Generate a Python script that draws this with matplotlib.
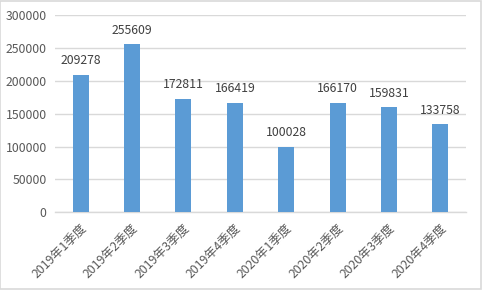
import matplotlib
matplotlib.use("Agg")
import matplotlib.pyplot as plt

plt.rcParams['font.family'] = ['Noto Sans CJK SC', 'DejaVu Sans']

categories = ["2019年1季度", "2019年2季度", "2019年3季度", "2019年4季度",
              "2020年1季度", "2020年2季度", "2020年3季度", "2020年4季度"]
values = [209278, 255609, 172811, 166419, 100028, 166170, 159831, 133758]
yticks = [0, 50000, 100000, 150000, 200000, 250000, 300000]

fig = plt.figure(figsize=(4.82, 2.90), dpi=100)
fig.patch.set_facecolor('white')
ax = fig.add_axes([55/482, 1 - 212.3/290, 411/482, (212.3 - 15)/290])

x = range(len(categories))
bars = ax.bar(x, values, width=0.31, color='#5B9BD5', zorder=3)
for xi, v in zip(x, values):
    ax.annotate(f"{v}", (xi, v), xytext=(0, 5.5), textcoords='offset points',
                ha='center', va='bottom', fontsize=8.8, color='#404040')

ax.set_xlim(-0.5, len(categories) - 0.5)
ax.set_ylim(0, 300000)
ax.set_yticks(yticks)
ax.set_yticklabels([str(t) for t in yticks], fontsize=8.8, color='#595959')
ax.set_xticks(list(x))
ax.set_xticklabels(categories, rotation=45, ha='right', rotation_mode='anchor',
                   fontsize=8.8, color='#595959')
ax.tick_params(axis='y', length=0, pad=6)
ax.tick_params(axis='x', length=0, pad=7)
ax.grid(axis='y', color='#D9D9D9', linewidth=1, zorder=0)
for s in ['top', 'right', 'left']:
    ax.spines[s].set_visible(False)
ax.spines['bottom'].set_color('#D9D9D9')
ax.spines['bottom'].set_linewidth(1)

border = plt.Rectangle((0.001, 0.002), 0.997, 0.995, transform=fig.transFigure,
                       fill=False, edgecolor='#D9D9D9', linewidth=1.2)
fig.patches.append(border)

fig.savefig("out.png", dpi=100)
